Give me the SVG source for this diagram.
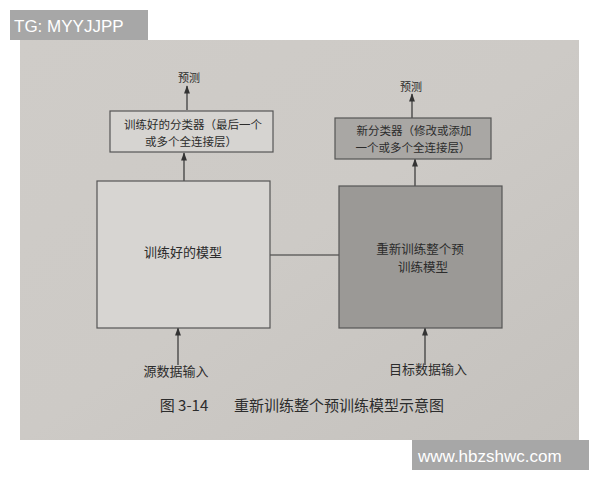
<svg xmlns="http://www.w3.org/2000/svg" width="600" height="480" viewBox="0 0 600 480">
<defs>
<linearGradient id="paper" x1="0" y1="0" x2="1" y2="1">
<stop offset="0" stop-color="#cfccc8"/>
<stop offset="0.5" stop-color="#cdcac6"/>
<stop offset="1" stop-color="#c4c1bd"/>
</linearGradient>
<marker id="ah" viewBox="0 0 10 10" refX="9" refY="5" markerWidth="7" markerHeight="7" orient="auto">
<path d="M0,1.5 L10,5 L0,8.5 Z" fill="#333"/>
</marker>
</defs>
<style>
.cn{font-family:"Noto Sans CJK SC","Noto Sans",sans-serif;fill:#2c2c2c;text-anchor:middle}
.box{stroke:#555;stroke-width:1.2}
.conn{stroke:#333;stroke-width:1.2;fill:none}
.wm{font-family:"Liberation Sans",Arial,sans-serif;fill:#ffffff;font-size:17px}
</style>
<rect x="0" y="0" width="600" height="480" fill="#ffffff"/>
<rect x="20" y="40" width="559" height="400" fill="url(#paper)"/>

<g id="connectors">
<line class="conn" x1="187" y1="110" x2="187" y2="86" marker-end="url(#ah)"/>
<line class="conn" x1="184" y1="181" x2="184" y2="153" marker-end="url(#ah)"/>
<line class="conn" x1="412" y1="118" x2="412" y2="94" marker-end="url(#ah)"/>
<line class="conn" x1="415" y1="186" x2="415" y2="159" marker-end="url(#ah)"/>
<line class="conn" x1="178" y1="365" x2="178" y2="328" marker-end="url(#ah)"/>
<line class="conn" x1="425" y1="365" x2="425" y2="328" marker-end="url(#ah)"/>
<line class="conn" x1="270" y1="255" x2="339" y2="255"/>
</g>

<g id="pred-left"><text class="cn" x="189" y="82" font-size="11">预测</text></g>
<g id="pred-right"><text class="cn" x="411" y="91" font-size="11">预测</text></g>

<g id="cls-left">
<rect class="box" x="110" y="111" width="163" height="41" fill="#d6d4d1"/>
<text class="cn" x="193" y="129" font-size="11.5">训练好的分类器（最后一个</text>
<text class="cn" x="191" y="146" font-size="11.5">或多个全连接层）</text>
</g>

<g id="cls-right">
<rect class="box" x="335" y="118" width="156" height="41" fill="#a9a7a4"/>
<text class="cn" x="414" y="135" font-size="11.5">新分类器（修改或添加</text>
<text class="cn" x="413" y="152" font-size="11.5">一个或多个全连接层）</text>
</g>

<g id="model-left">
<rect class="box" x="97" y="181" width="173" height="147" fill="#d7d5d2"/>
<text class="cn" x="183" y="257" font-size="13">训练好的模型</text>
</g>

<g id="model-right">
<rect class="box" x="339" y="186" width="163" height="142" fill="#9b9996"/>
<text class="cn" x="420" y="254" font-size="12.5">重新训练整个预</text>
<text class="cn" x="423" y="272" font-size="12.5">训练模型</text>
</g>

<g id="src"><text class="cn" x="176" y="376" font-size="13">源数据输入</text></g>
<g id="tgt"><text class="cn" x="428" y="374" font-size="13">目标数据输入</text></g>

<g id="caption">
<text class="cn" x="184" y="411" font-size="15">图 3-14</text>
<text class="cn" x="339" y="411" font-size="15">重新训练整个预训练模型示意图</text>
</g>

<g id="wm-top">
<rect x="10" y="10" width="138" height="30" fill="#a7a7a7"/>
<text class="wm" x="14" y="32">TG: MYYJJPP</text>
</g>
<g id="wm-bottom">
<rect x="412" y="440" width="177" height="30" fill="#a7a7a7"/>
<text class="wm" x="418" y="462">www.hbzshwc.com</text>
</g>
</svg>
